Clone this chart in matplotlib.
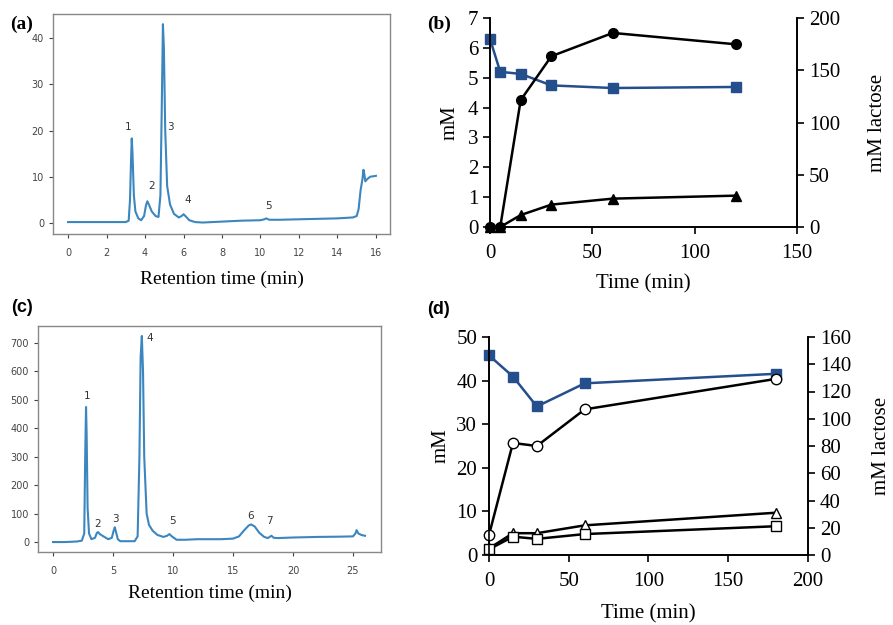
import matplotlib
matplotlib.use("Agg")
import matplotlib.pyplot as plt

# ---- panel (a) chromatogram
a_time = [0, 1, 2, 3.0, 3.15, 3.22, 3.27, 3.31, 3.35, 3.42, 3.5, 3.65, 3.8, 3.95, 4.05, 4.12,
          4.2, 4.35, 4.55, 4.7, 4.8, 4.87, 4.93, 4.98, 5.05, 5.15, 5.3, 5.5, 5.75, 5.9, 6.0,
          6.1, 6.3, 6.6, 7, 8, 9, 10, 10.2, 10.3, 10.45, 11, 12, 13, 14, 14.8, 15.0, 15.1,
          15.2, 15.3, 15.35, 15.4, 15.45, 15.55, 15.7, 16]
a_signal = [0.2, 0.2, 0.2, 0.2, 0.5, 5, 13, 18.3, 15, 6, 2.5, 1, 0.6, 1.5, 3.8, 4.7,
            4, 2.5, 1.5, 1.3, 6, 25, 43, 38, 20, 8, 4, 2, 1.2, 1.5, 1.9,
            1.5, 0.6, 0.2, 0.1, 0.3, 0.5, 0.6, 0.8, 1.0, 0.7, 0.7, 0.8, 0.9, 1.0, 1.2, 1.5, 3,
            7, 9.5, 11.5, 10.5, 9, 9.5, 10, 10.2]
a_peaks = ["1", "2", "3", "4", "5"]
a_peak_x = [3.12, 4.36, 5.3, 6.23, 10.4]
a_peak_y = [20.8, 8.0, 20.8, 5.0, 3.7]

# ---- panel (c) chromatogram
c_time = [0, 1, 2.0, 2.4, 2.6, 2.68, 2.75, 2.8, 2.88, 3.0, 3.2, 3.5, 3.65, 3.75, 3.9, 4.2,
          4.6, 4.9, 5.05, 5.15, 5.25, 5.4, 5.6, 6.0, 6.8, 7.05, 7.2, 7.3, 7.4, 7.5, 7.6,
          7.8, 8.0, 8.3, 8.7, 9.2, 9.5, 9.7, 9.9, 10.3, 11, 12, 13, 14, 15, 15.5, 15.9,
          16.3, 16.5, 16.8, 17.2, 17.6, 17.9, 18.2, 18.4, 18.7, 20, 22, 24, 25.0, 25.2,
          25.3, 25.45, 25.7, 26]
c_signal = [0, 0, 2, 5, 30, 300, 475, 380, 120, 30, 10, 15, 32, 35, 28, 20,
            10, 15, 40, 52, 35, 10, 3, 3, 3, 20, 300, 650, 725, 600, 300,
            100, 60, 40, 25, 18, 22, 28, 20, 8, 8, 10, 10, 10, 12, 20, 40,
            58, 62, 55, 32, 18, 14, 22, 15, 14, 16, 18, 19, 20, 30,
            42, 30, 25, 22]
c_peaks = ["1", "2", "3", "4", "5", "6", "7"]
c_peak_x = [2.85, 3.7, 5.17, 8.05, 9.94, 16.5, 18.0]
c_peak_y = [513, 63, 81, 718, 74, 91, 74]

# ---- panel (b) time course
b_time = [0, 5, 15, 30, 60, 120]
b_circle = [0, 0, 4.25, 5.72, 6.5, 6.12]
b_triangle = [0, 0, 0.4, 0.75, 0.95, 1.05]
b_lactose = [180, 148.5, 146.5, 135.5, 133, 134]

# ---- panel (d) time course
d_time = [0, 15, 30, 60, 180]
d_circle = [4.6, 25.7, 25.0, 33.4, 40.4]
d_triangle = [1.5, 5.0, 5.0, 6.8, 9.7]
d_square = [1.3, 4.2, 3.7, 4.8, 6.6]
d_lactose = [146.5, 131, 109, 126, 133]

trace_col = "#3b86bf"
blue = "#244f8c"
serif = "Liberation Serif"

fig = plt.figure(figsize=(8.93, 6.25), dpi=100)


def chrom_axes(rect, t, s, xlim, ylim, xticks, yticks, labels, lx, ly, lpad):
    ax = fig.add_axes(rect)
    ax.plot(t, s, color=trace_col, lw=1.5)
    for lab, x, y in zip(labels, lx, ly):
        ax.text(x, y, lab, fontsize=7.5, color="#333333", ha="center", va="center")
    ax.set_xlim(*xlim)
    ax.set_ylim(*ylim)
    ax.set_xticks(xticks)
    ax.set_yticks(yticks)
    ax.tick_params(labelsize=7, colors="#444444", length=3, width=0.8)
    ax.tick_params(axis="x", pad=7)
    for sp in ax.spines.values():
        sp.set_color("#888888")
        sp.set_linewidth(1.0)
    ax.set_xlabel("Retention time (min)", family=serif, fontsize=14, labelpad=lpad)
    return ax


chrom_axes([0.0594, 0.6256, 0.3773, 0.352], a_time, a_signal, (-0.78, 16.73), (-2.38, 45.2),
           range(0, 17, 2), range(0, 41, 10), a_peaks, a_peak_x, a_peak_y, 9)
chrom_axes([0.0426, 0.1168, 0.384, 0.3616], c_time, c_signal, (-1.25, 27.33), (-35, 760),
           range(0, 26, 5), range(0, 701, 100), c_peaks, c_peak_x, c_peak_y, 6)


def course_axes(rect, xlim, ylim, ylim2, xticks, yticks, yticks2, xpad, ypad, y2pad):
    ax = fig.add_axes(rect)
    ax2 = ax.twinx()
    for a in (ax, ax2):
        a.spines["top"].set_visible(False)
        for sp in a.spines.values():
            sp.set_linewidth(1.2)
        a.tick_params(labelsize=15, direction="out", length=5, width=1.2)
    ax.tick_params(axis="x", pad=7)
    ax.set_xlim(*xlim)
    ax.set_ylim(*ylim)
    ax2.set_ylim(*ylim2)
    ax.set_xticks(xticks)
    ax.set_yticks(yticks)
    ax2.set_yticks(yticks2)
    for lab in ax.get_xticklabels() + ax.get_yticklabels() + ax2.get_yticklabels():
        lab.set_family(serif)
    ax.set_xlabel("Time (min)", family=serif, fontsize=15, labelpad=xpad)
    ax.set_ylabel("mM", family=serif, fontsize=15, labelpad=ypad)
    ax2.set_ylabel("mM lactose", family=serif, fontsize=15, labelpad=y2pad)
    ax.set_zorder(ax2.get_zorder() + 1)
    ax.patch.set_visible(False)
    return ax, ax2


# (b)
ax, ax2 = course_axes([0.5487, 0.6368, 0.3438, 0.3344], (0, 150), (0, 7), (0, 200),
                      range(0, 151, 50), range(0, 8), range(0, 201, 50), 8, 6, 20)
ax2.plot(b_time, b_lactose, color=blue, lw=1.8, marker="s", ms=7.5, mfc=blue, mec=blue,
         clip_on=False)
ax.plot(b_time, b_triangle, color="black", lw=1.8, marker="^", ms=7, clip_on=False)
ax.plot(b_time, b_circle, color="black", lw=1.8, marker="o", ms=7, clip_on=False)

# (d)
ax, ax2 = course_axes([0.5476, 0.112, 0.3572, 0.3488], (0, 200), (0, 50), (0, 160),
                      range(0, 201, 50), range(0, 51, 10), range(0, 161, 20), 10, 4, 15)
ax2.plot(d_time, d_lactose, color=blue, lw=1.8, marker="s", ms=7.5, mfc=blue, mec=blue,
         clip_on=False)
ax.plot(d_time, d_triangle, color="black", lw=1.8, marker="^", ms=7, mfc="white",
        clip_on=False)
ax.plot(d_time, d_square, color="black", lw=1.8, marker="s", ms=7.5, mfc="white",
        clip_on=False)
ax.plot(d_time, d_circle, color="black", lw=1.8, marker="o", ms=7.5, mfc="white",
        clip_on=False)

# panel letters
fig.text(0.011, 0.975, "(a)", family=serif, weight="bold", fontsize=14, va="top")
fig.text(0.478, 0.975, "(b)", family=serif, weight="bold", fontsize=14, va="top")
fig.text(0.013, 0.522, "(c)", family="Liberation Sans", weight="bold", fontsize=13, va="top")
fig.text(0.478, 0.518, "(d)", family="Liberation Sans", weight="bold", fontsize=13, va="top")

fig.savefig("out.png", dpi=100)
